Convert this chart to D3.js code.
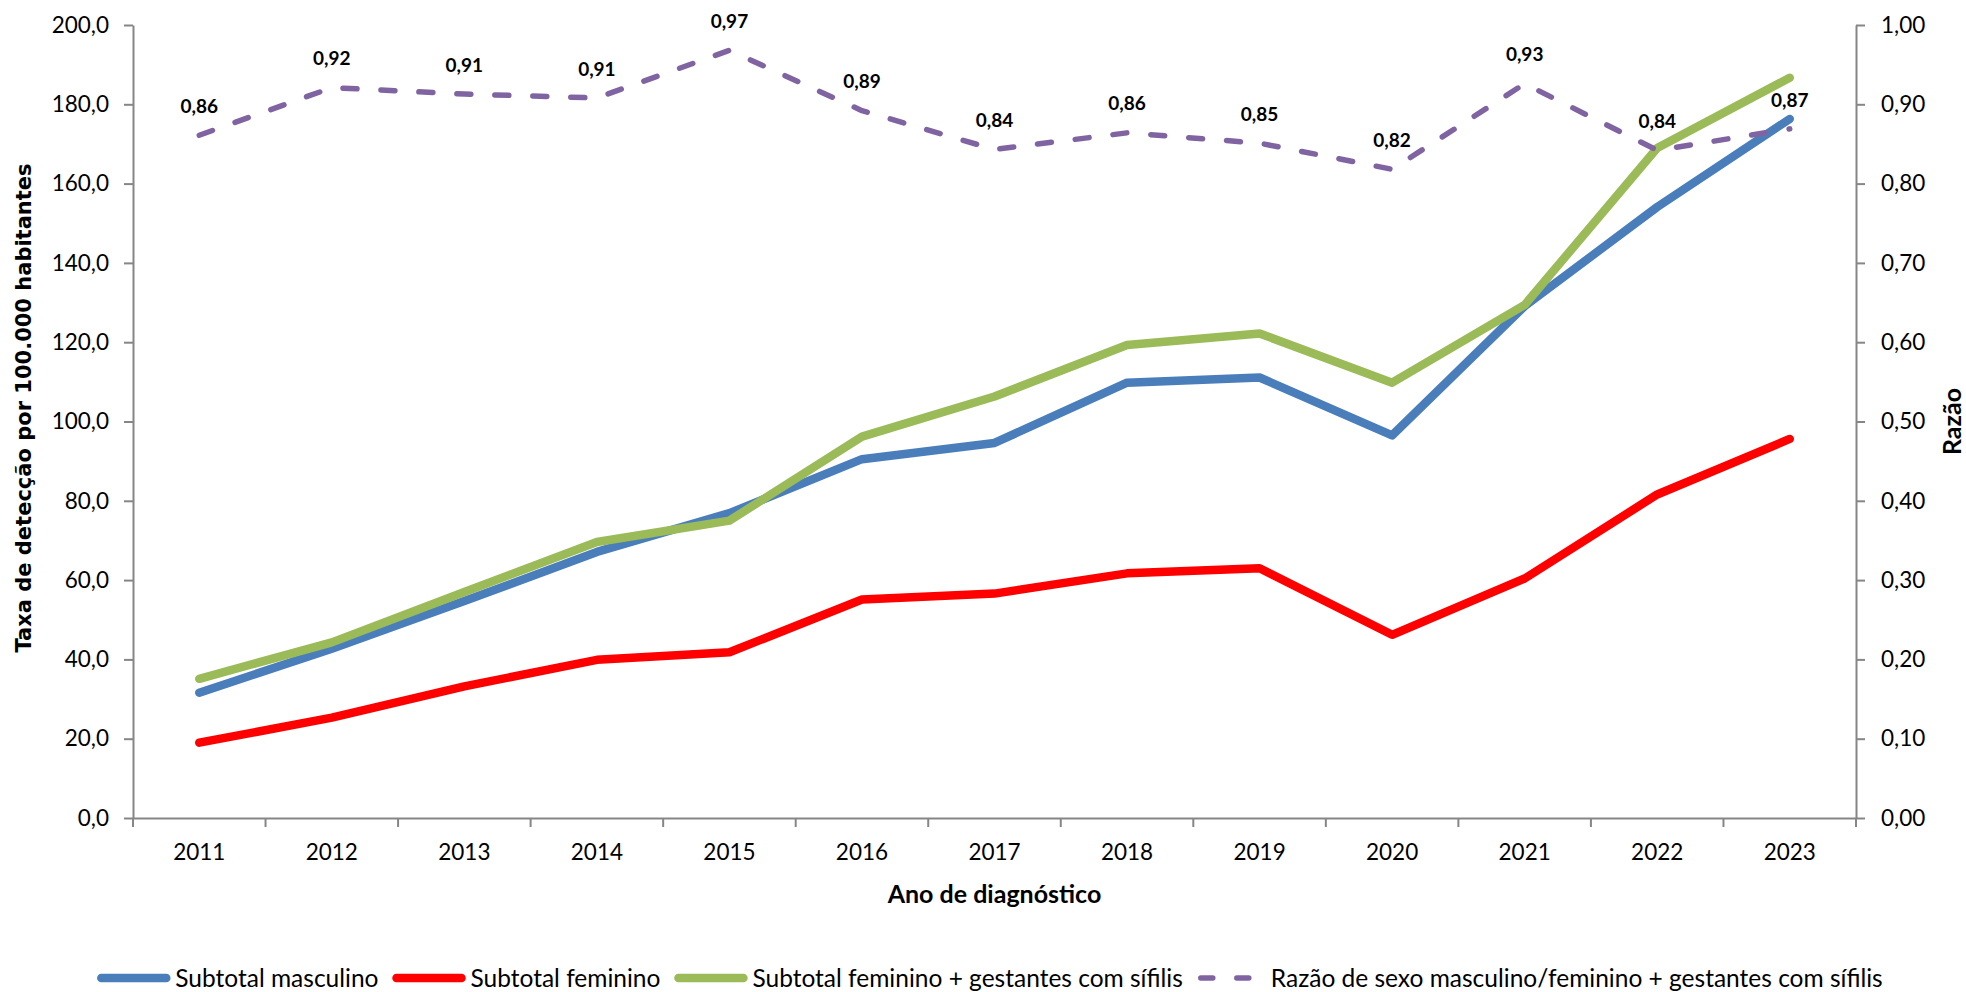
<!DOCTYPE html>
<html>
<head>
<meta charset="utf-8">
<script src="https://cdn.jsdelivr.net/npm/d3@7"></script>
<style>
  html, body { margin: 0; padding: 0; background: #ffffff; }
  svg { display: block; }
</style>
</head>
<body>
<svg id="chart" width="1966" height="992"></svg>
<script>
// ---- data ----
const years = ["2011","2012","2013","2014","2015","2016","2017","2018","2019","2020","2021","2022","2023"];
const masculino = [31.6, 42.7, 54.7, 67.1, 76.9, 90.5, 94.6, 109.8, 111.1, 96.5, 129.1, 154.1, 176.3];
const feminino = [19.0, 25.3, 33.2, 39.9, 41.8, 55.1, 56.6, 61.7, 63.0, 46.2, 60.4, 81.6, 95.6];
const femininoGestantes = [35.1, 44.3, 57.0, 69.6, 75.0, 96.2, 106.3, 119.3, 122.2, 109.8, 129.4, 169.0, 186.7];
const razao = [0.861, 0.921, 0.913, 0.908, 0.968, 0.892, 0.843, 0.864, 0.851, 0.818, 0.926, 0.842, 0.869];
const leftTicks = [0, 20, 40, 60, 80, 100, 120, 140, 160, 180, 200];
const rightTicks = [0, 0.1, 0.2, 0.3, 0.4, 0.5, 0.6, 0.7, 0.8, 0.9, 1.0];
const seriesNames = [
  "Subtotal masculino",
  "Subtotal feminino",
  "Subtotal feminino + gestantes com sífilis",
  "Razão de sexo masculino/feminino + gestantes com sífilis"
];
const yTitleLeft = "Taxa de detecção por 100.000 habitantes";
const yTitleRight = "Razão";
const xTitle = "Ano de diagnóstico";

// ---- layout ----
const W = 1966, H = 992;
const plot = { left: 133, right: 1856, top: 25, bottom: 818 };
const colors = ["#4A7EBB", "#FF0000", "#9BBB59", "#8064A2"];
const axisColor = "#868686";
const numFont = "Lato, 'Open Sans', sans-serif";

const svg = d3.select("#chart");
svg.append("rect").attr("width", W).attr("height", H).attr("fill", "#fff");

const x = d3.scaleBand().domain(years).range([plot.left, plot.right]).padding(0);
const yL = d3.scaleLinear().domain([0, 200]).range([plot.bottom, plot.top]);
const yR = d3.scaleLinear().domain([0, 1]).range([plot.bottom, plot.top]);
const cx = d => x(d) + x.bandwidth() / 2;

const fmt1 = v => d3.format(".1f")(v).replace(".", ",");
const fmt2 = v => d3.format(".2f")(v).replace(".", ",");

// left axis
const gL = svg.append("g").attr("transform", `translate(${plot.left},0)`)
  .call(d3.axisLeft(yL).tickValues(leftTicks).tickFormat(fmt1).tickSize(9).tickPadding(15).tickSizeOuter(0));
// right axis
const gR = svg.append("g").attr("transform", `translate(${plot.right},0)`)
  .call(d3.axisRight(yR).tickValues(rightTicks).tickFormat(fmt2).tickSize(9).tickPadding(16).tickSizeOuter(0));
// bottom axis (labels at category centers)
const gB = svg.append("g").attr("transform", `translate(0,${plot.bottom})`)
  .call(d3.axisBottom(x).tickSize(0).tickPadding(24).tickSizeOuter(0));
// category boundary ticks
const edges = years.map(d => x(d)).concat([x.range()[1]]);
gB.selectAll("line.edge").data(edges).join("line").attr("class", "edge")
  .attr("x1", d => d).attr("x2", d => d).attr("y1", 0).attr("y2", 9)
  .attr("stroke", axisColor).attr("stroke-width", 2);

[gL, gR, gB].forEach(g => {
  g.selectAll(".domain").attr("stroke", axisColor).attr("stroke-width", 2);
  g.selectAll(".tick line").attr("stroke", axisColor).attr("stroke-width", 2);
  g.selectAll(".tick text").attr("fill", "#000").style("font-family", numFont).style("font-size", "22.5px");
});
gB.selectAll(".tick text").attr("dy", "0.35em").attr("y", 34);

// lines
const series = [masculino, feminino, femininoGestantes];
series.forEach((vals, i) => {
  const line = d3.line().x((d, j) => cx(years[j])).y(d => yL(d));
  svg.append("path").datum(vals).attr("d", line)
    .attr("fill", "none").attr("stroke", colors[i]).attr("stroke-width", 8.5)
    .attr("stroke-linejoin", "round").attr("stroke-linecap", "round");
});
const lineR = d3.line().x((d, j) => cx(years[j])).y(d => yR(d));
svg.append("path").datum(razao).attr("d", lineR)
  .attr("fill", "none").attr("stroke", colors[3]).attr("stroke-width", 5.5)
  .attr("stroke-dasharray", "14,24").attr("stroke-linecap", "round").attr("stroke-linejoin", "round");

// data labels
svg.append("g").selectAll("text").data(razao).join("text")
  .attr("x", (d, j) => cx(years[j]))
  .attr("y", d => yR(d) - 29)
  .attr("dy", "0.35em")
  .attr("text-anchor", "middle")
  .style("font-family", numFont).style("font-weight", "bold").style("font-size", "19px")
  .attr("fill", "#000")
  .text(d => fmt2(d));

// axis titles
svg.append("text")
  .attr("transform", `translate(24,408) rotate(-90)`)
  .attr("text-anchor", "middle").attr("dy", "0.35em")
  .style("font-family", "'DejaVu Sans', Verdana, sans-serif").style("font-weight", "bold").style("font-size", "21px")
  .text(yTitleLeft);
svg.append("text")
  .attr("transform", `translate(1952,${(plot.top + plot.bottom) / 2}) rotate(-90)`)
  .attr("text-anchor", "middle").attr("dy", "0.35em")
  .style("font-family", numFont).style("font-weight", "bold").style("font-size", "25px")
  .text(yTitleRight);
svg.append("text")
  .attr("x", (plot.left + plot.right) / 2).attr("y", 894).attr("dy", "0.35em")
  .attr("text-anchor", "middle")
  .style("font-family", numFont).style("font-weight", "bold").style("font-size", "25px")
  .text(xTitle);

// legend
const legY = 978;
const leg = svg.append("g");
const items = seriesNames.map((name, i) => {
  const g = leg.append("g");
  if (i < 3) {
    g.append("line").attr("x1", 4).attr("x2", 69).attr("y1", 0).attr("y2", 0)
      .attr("stroke", colors[i]).attr("stroke-width", 8.5).attr("stroke-linecap", "round");
  } else {
    g.append("line").attr("x1", 4).attr("x2", 62).attr("y1", 0).attr("y2", 0)
      .attr("stroke", colors[i]).attr("stroke-width", 5.5).attr("stroke-linecap", "round")
      .attr("stroke-dasharray", "12,24");
  }
  const t = g.append("text").attr("x", i < 3 ? 78 : 74).attr("dy", "0.35em")
    .style("font-family", numFont).style("font-size", "24.5px").attr("fill", "#000").text(name);
  return { g, w: (i < 3 ? 78 : 74) + t.node().getComputedTextLength() };
});
const gap = 14;
const total = d3.sum(items, d => d.w) + gap * (items.length - 1);
let xs = 990 - total / 2;
items.forEach(it => {
  it.g.attr("transform", `translate(${xs},${legY})`);
  xs += it.w + gap;
});
</script>
</body>
</html>
